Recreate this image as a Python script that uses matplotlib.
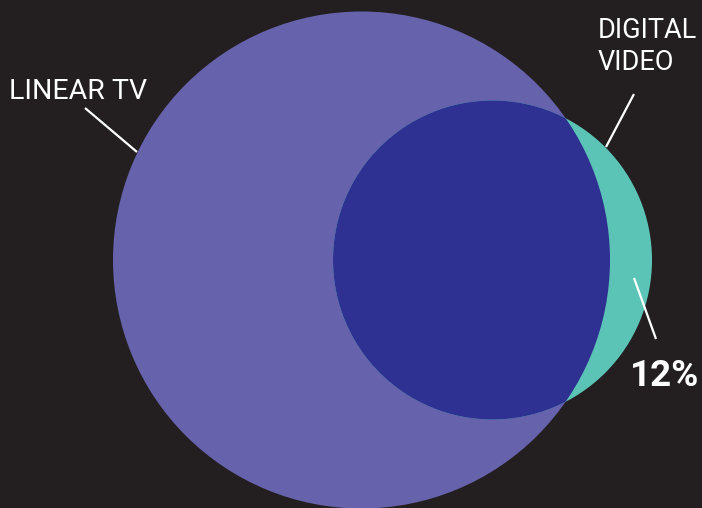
import matplotlib.pyplot as plt
from matplotlib.patches import Circle

# two overlapping audiences (pixel units)
labels = ["LINEAR TV", "DIGITAL\nVIDEO"]
centers_x = [361.5, 492.5]
centers_y = [260, 260]
radii = [248.5, 159.5]
share_label = "12%"

bg = "#231f20"
purple = "#6662ac"
teal = "#5bc4b6"
overlap = "#2e3192"

fig = plt.figure(figsize=(7.02, 5.08), dpi=100, facecolor=bg)
ax = fig.add_axes([0, 0, 1, 1])
ax.set_facecolor(bg)
ax.set_xlim(0, 702)
ax.set_ylim(508, 0)
ax.set_aspect("equal")
ax.axis("off")

big = Circle((centers_x[0], centers_y[0]), radii[0], color=purple, lw=0)
small = Circle((centers_x[1], centers_y[1]), radii[1], color=teal, lw=0)
ax.add_patch(big)
ax.add_patch(small)

# overlap = small circle clipped by the big one
inter = Circle((centers_x[1], centers_y[1]), radii[1], color=overlap, lw=0)
ax.add_patch(inter)
inter.set_clip_path(big)

font = ["Roboto", "DejaVu Sans"]
ax.text(9, 99, labels[0], color="white", fontsize=20.5, family=font,
        va="baseline", ha="left")
ax.text(598, 70, labels[1], color="white", fontsize=19.5, family=font,
        va="baseline", ha="left", linespacing=1.22)
ax.text(699, 386, share_label, color="white", fontsize=26.5, family=font,
        fontweight="bold", va="baseline", ha="right")

# leader lines
ax.plot([85, 137], [108, 152], color="white", lw=1.6, solid_capstyle="butt")
ax.plot([634, 606], [94, 147], color="white", lw=1.6, solid_capstyle="butt")
ax.plot([634, 656], [278, 339], color="white", lw=1.6, solid_capstyle="butt")

fig.savefig("out.png", dpi=100, facecolor=bg)
